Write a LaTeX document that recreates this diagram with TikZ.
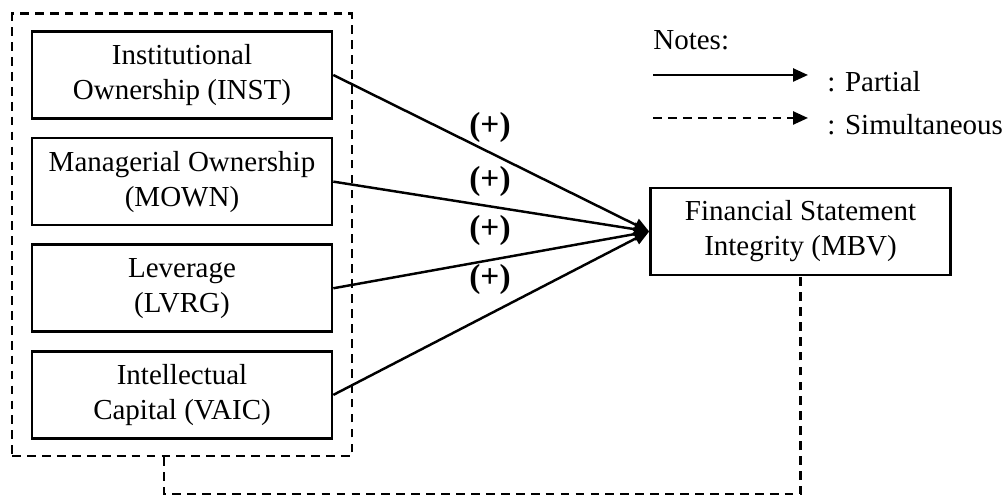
\documentclass[tikz,border=0pt]{standalone}
\usepackage{fontspec}
\setmainfont{Liberation Serif}
\usetikzlibrary{positioning,fit,arrows.meta}

\tikzset{
  varbox/.style={draw, line width=1.5pt, minimum width=6cm, minimum height=1.74cm,
    align=center, inner sep=0pt, font=\fontsize{16.5pt}{19.9pt}\selectfont},
  partial/.style={line width=1.4pt, -{Triangle[length=0.3cm,width=0.26cm]}},
  simul/.style={line width=1.4pt, dash pattern=on 5pt off 3.5pt},
  sign/.style={font=\fontsize{19pt}{20pt}\selectfont\bfseries},
  note/.style={font=\fontsize{16.5pt}{19.9pt}\selectfont, inner sep=0pt}
}

\begin{document}
\begin{tikzpicture}
    \useasboundingbox (0,0) rectangle (20.1,9.94);
    % independent variables
    \node[varbox] (inst) at (3.64,8.44) {Institutional\\Ownership (INST)};
    \node[varbox, below=0.34cm of inst] (mown) {Managerial Ownership\\(MOWN)};
    \node[varbox, below=0.34cm of mown] (lvrg) {Leverage\\(LVRG)};
    \node[varbox, below=0.34cm of lvrg] (vaic) {Intellectual\\Capital (VAIC)};
    \node[simul, draw, fit=(inst)(vaic), inner xsep=0.37cm, inner ysep=0.33cm] (group) {};
    % dependent variable
    \node[varbox] (mbv) at (16.01,5.31) {Financial Statement\\Integrity (MBV)};
    % partial effects
    \draw[partial] (inst.east) -- (mbv.west);
    \draw[partial] (mown.east) -- (mbv.west);
    \draw[partial] (lvrg.east) -- (mbv.west);
    \draw[partial] (vaic.east) -- (mbv.west);
    \node[sign] (s1) at (9.8,7.4) {(+)};
    \node[sign] (s2) at (9.8,6.32) {(+)};
    \node[sign] (s3) at (9.8,5.34) {(+)};
    \node[sign] (s4) at (9.8,4.36) {(+)};
    % simultaneous effect
    \coordinate (c1) at (3.28,0.06);
    \draw[simul] (c1 |- group.south) -- (c1) -- (c1 -| mbv.south) -- (mbv.south);
    % legend
    \node[note, anchor=base west] (notes) at (13.06,8.94) {Notes:};
    \coordinate (p1) at (13.06,8.44);
    \coordinate (p2) at (16.16,8.44);
    \coordinate (q1) at (13.06,7.58);
    \coordinate (q2) at (16.16,7.58);
    \draw[partial] (p1) -- (p2);
    \draw[simul, -{Triangle[length=0.3cm,width=0.26cm]}] (q1) -- (q2);
    \node[note, anchor=base west] (lp) at (16.54,8.10) {: Partial};
    \node[note, anchor=base west] (ls) at (16.54,7.24) {: Simultaneous};
\end{tikzpicture}
\end{document}
